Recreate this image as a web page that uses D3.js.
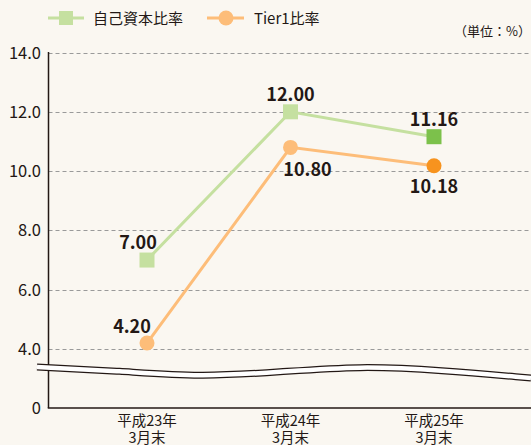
<!DOCTYPE html>
<html lang="ja">
<head>
<meta charset="UTF-8">
<title>自己資本比率</title>
<script src="https://d3js.org/d3.v7.min.js"></script>
<style>
  body {margin:0; background:#faf7f1; font-family:"Noto Sans CJK JP","Noto Sans",sans-serif;}
  svg text {fill:#231815;}
</style>
</head>
<body>
<div id="chart"></div>
<script>
// data
var categories = ["平成23年|3月末", "平成24年|3月末", "平成25年|3月末"];
var capitalRatio = [7.00, 12.00, 11.16];   // 自己資本比率
var tier1Ratio = [4.20, 10.80, 10.18];     // Tier1比率
var yTicks = [4, 6, 8, 10, 12, 14];

var width = 531, height = 445;
var svg = d3.select("#chart").append("svg")
  .attr("width", width).attr("height", height);

svg.append("rect").attr("width", width).attr("height", height).attr("fill", "#faf7f1");

var x = d3.scalePoint().domain(categories).range([147, 434]);
var y = d3.scaleLinear().domain([4, 14]).range([349, 52.5]);
var baseY = 408, axisX = 48.5;

// grid lines
svg.selectAll(".grid").data(yTicks).enter().append("line")
  .attr("x1", axisX).attr("x2", width)
  .attr("y1", function(d){ return Math.round(y(d)) + 0.5; })
  .attr("y2", function(d){ return Math.round(y(d)) + 0.5; })
  .attr("stroke", "#9a9a9a").attr("stroke-dasharray", "4,3").attr("stroke-width", 1);

// tick labels
svg.selectAll(".ytl").data(yTicks).enter().append("text")
  .attr("x", 41).attr("y", function(d){ return y(d) + 6; })
  .attr("text-anchor", "end").attr("font-size", 16.5)
  .text(function(d){ return d.toFixed(1); });
svg.append("text").attr("x", 41).attr("y", baseY + 6)
  .attr("text-anchor", "end").attr("font-size", 16.5).text("0");

// axes
svg.append("line").attr("x1", axisX).attr("x2", axisX).attr("y1", 52).attr("y2", baseY)
  .attr("stroke", "#231815").attr("stroke-width", 1.5);
svg.append("line").attr("x1", axisX - 0.75).attr("x2", width).attr("y1", baseY).attr("y2", baseY)
  .attr("stroke", "#231815").attr("stroke-width", 1.5);

// break wave
var wave = d3.line().curve(d3.curveBasis);
var wavePts = [[37,367],[120,371],[200,377],[280,372],[360,366],[440,370],[531,378]];
svg.append("path").attr("d", wave(wavePts)).attr("fill", "none")
  .attr("stroke", "#231815").attr("stroke-width", 7);
svg.append("path").attr("d", wave(wavePts)).attr("fill", "none")
  .attr("stroke", "#ffffff").attr("stroke-width", 4.5);

// x labels (two lines, bottom one runs off the page like the original)
categories.forEach(function(c){
  var parts = c.split("|");
  var t = svg.append("text").attr("x", x(c)).attr("y", 426).attr("text-anchor", "middle")
    .attr("font-size", 14.5);
  t.append("tspan").attr("x", x(c)).text(parts[0]);
  t.append("tspan").attr("x", x(c)).attr("dy", 17).text(parts[1]);
});

var line = d3.line()
  .x(function(d, i){ return x(categories[i]); })
  .y(function(d){ return y(d); });

svg.append("path").datum(capitalRatio).attr("d", line)
  .attr("fill", "none").attr("stroke", "#c5e0a0").attr("stroke-width", 3);
svg.append("path").datum(tier1Ratio).attr("d", line)
  .attr("fill", "none").attr("stroke", "#fdbd79").attr("stroke-width", 3);

// markers
svg.selectAll(".sq").data(capitalRatio).enter().append("rect")
  .attr("x", function(d, i){ return x(categories[i]) - 7.5; })
  .attr("y", function(d){ return y(d) - 7.5; })
  .attr("width", 15).attr("height", 15)
  .attr("fill", function(d, i){ return i === 2 ? "#7cc14b" : "#c5e0a0"; });
svg.selectAll(".ci").data(tier1Ratio).enter().append("circle")
  .attr("cx", function(d, i){ return x(categories[i]); })
  .attr("cy", function(d){ return y(d); })
  .attr("r", 7.5)
  .attr("fill", function(d, i){ return i === 2 ? "#f7931e" : "#fdbd79"; });

// value labels
var capOff = [[-9, -11], [0, -11], [0, -11]];
var tierOff = [[-15, -10], [17, 29], [0, 27]];
svg.selectAll(".cl").data(capitalRatio).enter().append("text")
  .attr("x", function(d, i){ return x(categories[i]) + capOff[i][0]; })
  .attr("y", function(d, i){ return y(d) + capOff[i][1]; })
  .attr("text-anchor", "middle").attr("font-size", 18).attr("font-weight", "bold")
  .text(function(d){ return d.toFixed(2); });
svg.selectAll(".tl").data(tier1Ratio).enter().append("text")
  .attr("x", function(d, i){ return x(categories[i]) + tierOff[i][0]; })
  .attr("y", function(d, i){ return y(d) + tierOff[i][1]; })
  .attr("text-anchor", "middle").attr("font-size", 18).attr("font-weight", "bold")
  .text(function(d){ return d.toFixed(2); });

// legend
var lg = svg.append("g");
lg.append("line").attr("x1", 48).attr("x2", 84).attr("y1", 18).attr("y2", 18)
  .attr("stroke", "#c5e0a0").attr("stroke-width", 3);
lg.append("rect").attr("x", 59).attr("y", 11).attr("width", 14).attr("height", 14).attr("fill", "#c5e0a0");
lg.append("text").attr("x", 93).attr("y", 24).attr("font-size", 15).text("自己資本比率");
lg.append("line").attr("x1", 207).attr("x2", 244).attr("y1", 18).attr("y2", 18)
  .attr("stroke", "#fdbd79").attr("stroke-width", 3);
lg.append("circle").attr("cx", 226).attr("cy", 18).attr("r", 7.5).attr("fill", "#fdbd79");
lg.append("text").attr("x", 254).attr("y", 24).attr("font-size", 15).text("Tier1比率");
svg.append("text").attr("x", 531).attr("y", 36).attr("text-anchor", "end")
  .attr("font-size", 13).text("（単位：%）");
</script>
</body>
</html>
